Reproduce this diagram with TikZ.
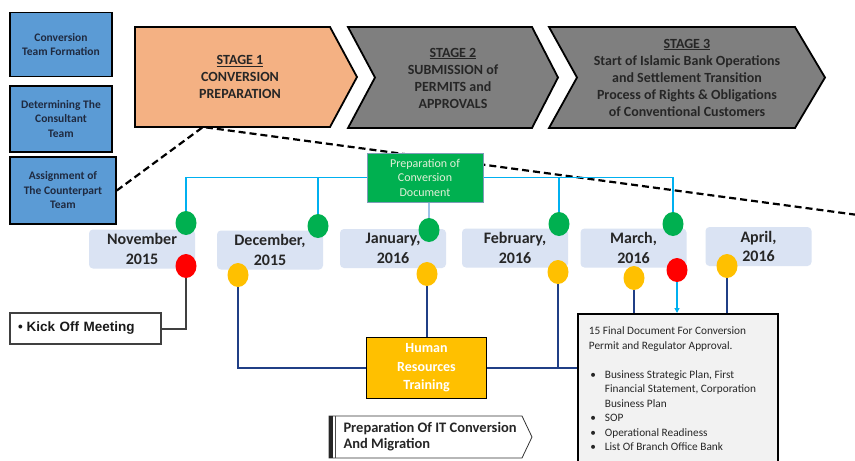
\documentclass[tikz,border=0pt]{standalone}
\usepackage{fontspec}
\setmainfont{Carlito}
\newfontfamily\kickfont{Liberation Sans}
\usetikzlibrary{shapes.geometric,backgrounds,arrows.meta}

\definecolor{teamblue}{HTML}{5B9BD5}
\definecolor{teamtext}{HTML}{1F2A40}
\definecolor{stageorange}{HTML}{F4B183}
\definecolor{stagegray}{HTML}{7F7F7F}
\definecolor{prepgreen}{HTML}{00B050}
\definecolor{preptext}{HTML}{E2F0D9}
\definecolor{buscyan}{HTML}{00B0F0}
\definecolor{stemblue}{HTML}{9DC3E6}
\definecolor{monthfill}{HTML}{DAE3F3}
\definecolor{dotgreen}{HTML}{00B050}
\definecolor{dotyellow}{HTML}{FFC000}
\definecolor{dotred}{HTML}{FF0000}
\definecolor{navy}{HTML}{203F86}
\definecolor{docgray}{HTML}{F2F2F2}

\newcommand{\docitem}[1]{\par\hangindent=16pt\hangafter=1\noindent\makebox[16pt][l]{\hspace{1.5pt}\textbullet}#1}

\begin{document}
\begin{tikzpicture}[x=1pt,y=-1pt]
  \tikzset{teambox/.style = {draw=black,line width=1.6pt,fill=teamblue,align=center,inner sep=2pt,text=teamtext,font=\bfseries\fontsize{11.5}{14.5}\selectfont}}
  \tikzset{stageline/.style = {draw=black,line width=1.8pt,line join=miter}}
  \tikzset{stagetext/.style = {align=center,text=black!85,font=\bfseries\fontsize{14}{17}\selectfont}}
  \tikzset{prepbox/.style = {draw=stemblue!80!black,line width=0.8pt,fill=prepgreen,minimum width=116pt,minimum height=49pt,align=center,text=preptext,font=\fontsize{12}{14.5}\selectfont}}
  \tikzset{monthbox/.style = {fill=monthfill,rounded corners=4pt,minimum width=106pt,minimum height=39pt,align=center,text=black!85,font=\bfseries\fontsize{16}{19.5}\selectfont}}
  \tikzset{milestone/.style = {ellipse,minimum width=21pt,minimum height=24pt,inner sep=0pt}}
  \tikzset{hrbox/.style = {draw=black,line width=1.6pt,fill=dotyellow,minimum width=120pt,minimum height=61pt,align=center,text=white,font=\bfseries\fontsize{14}{18.5}\selectfont}}
  \tikzset{kickbox/.style = {draw=black!75,line width=1.8pt,text width=135pt,inner xsep=8pt,minimum height=31pt,align=left,text=black!90,font=\kickfont\bfseries\fontsize{13.5}{16}\selectfont}}
  \tikzset{docbox/.style = {draw=black,line width=1.8pt,fill=docgray,anchor=north west,inner xsep=11pt,inner ysep=13pt,text=black!85,font=\fontsize{11.3}{14.5}\selectfont}}
  \tikzset{ittext/.style = {anchor=west,align=left,text=black!85,font=\bfseries\fontsize{14.5}{16}\selectfont}}
  \tikzset{dashlink/.style = {draw=black,line width=2.2pt,dash pattern=on 7pt off 4pt}}
  \tikzset{buslink/.style = {draw=buscyan,line width=1.6pt}}
  \tikzset{stemlink/.style = {draw=stemblue,line width=1.2pt}}
  \tikzset{navylink/.style = {draw=navy,line width=1.4pt}}
  \tikzset{kicklink/.style = {draw=black!75,line width=2pt}}

  \useasboundingbox (0,0) rectangle (855,461);

  % team formation boxes
  \node[teambox,minimum width=102pt,minimum height=64pt] (team1) at (61,44.5) {Conversion\\Team Formation};
  \node[teambox,minimum width=102pt,minimum height=66pt] (team2) at (61,119) {Determining The\\Consultant\\Team};
  \node[teambox,minimum width=106pt,minimum height=67pt] (team3) at (63,190.5) {Assignment of\\The Counterpart\\Team};

  % stages
  \draw[stageline,fill=stageorange] (135,27) -- (330,27) -- (357,77) -- (330,127) -- (135,127) -- cycle;
  \draw[stageline,fill=stagegray] (348,27) -- (532,27) -- (558,77.5) -- (532,128) -- (348,128) -- (375,77.5) -- cycle;
  \draw[stageline,fill=stagegray] (549,27) -- (795,27) -- (825,77.5) -- (795,128) -- (549,128) -- (577,77.5) -- cycle;
  \node[stagetext] (stage1) at (240,77) {\underline{STAGE 1}\\CONVERSION\\PREPARATION};
  \node[stagetext] (stage2) at (453,78) {\underline{STAGE 2}\\SUBMISSION of\\PERMITS and\\APPROVALS};
  \node[stagetext] (stage3) at (687,77.5) {\underline{STAGE 3}\\Start of Islamic Bank Operations\\and Settlement Transition\\Process of Rights \& Obligations\\of Conventional Customers};
  \coordinate (s1foot) at (203,127);
  \coordinate (dashend) at (858,215);

  \node[prepbox] (prep) at (425,177.5) {Preparation of\\Conversion\\Document};

  % months
  \foreach \name/\x/\y/\txt in {nov/142/249/{November\\2015},dec/270/250/{December,\\2015},
    jan/393/248.5/{January,\\2016},feb/515/248/{February,\\2016},mar/633.5/248/{March,\\2016},
    apr/758.5/246.5/{April,\\2016}}
    \node[monthbox] (\name) at (\x,\y) {\txt};

  \foreach \name/\x/\y/\col in {g1/186/223/dotgreen,g2/318/226/dotgreen,g3/429/230/dotgreen,
    g4/559/224/dotgreen,g5/673/224/dotgreen,r1/186/266/dotred,r2/677/270/dotred,
    y1/238/275/dotyellow,y2/427/274/dotyellow,y3/558/272/dotyellow,y4/634/278/dotyellow,
    y5/727/266/dotyellow}
    \node[milestone,fill=\col] (\name) at (\x,\y) {};

  \node[kickbox] (kick) at (85.5,328.5) {\textbullet\hspace{4pt}Kick Off Meeting};
  \node[hrbox] (hr) at (426.5,368) {Human\\Resources\\Training};

  \node[docbox] (doc) at (577,313) {\parbox[t][150pt][t]{178pt}{\raggedright
    15 Final Document For Conversion\\Permit and Regulator Approval.\par\vspace{14.5pt}
    \docitem{Business Strategic Plan, First\newline Financial Statement, Corporation\newline Business Plan}
    \docitem{SOP}
    \docitem{Operational Readiness}
    \docitem{List Of Branch Office Bank}}};

  % IT conversion arrow
  \draw[draw=black!80,line width=0.8pt,fill=white] (329,416) -- (522,416) -- (532,437) -- (522,458) -- (329,458) -- cycle;
  \fill[black!85] (329,416) rectangle (333,458);
  \draw[black!70,line width=0.6pt] (335.5,416) -- (335.5,458);
  \node[ittext] (itmig) at (340,437) {Preparation Of IT Conversion\\And Migration};

  \begin{scope}[on background layer]
    \fill[white] (0,0) rectangle (855,461);
    \draw[dashlink] (team3.east) -- (s1foot) -- (dashend);
    \draw[buslink] (g1) |- (prep.west);
    \draw[buslink] (prep.east) -| (g5);
    \foreach \from/\to in {g2/west,g4/east}
      \draw[buslink] (\from) -- (\from |- prep.\to);
    \draw[stemlink] (g3 |- prep.south) -- (g3);
    \draw[kicklink] (r1) |- (kick.east);
    \draw[navylink] (y1) |- (hr.west);
    \draw[navylink] (y2) -- (y2 |- hr.north);
    \draw[navylink] (hr.east) -- (hr.east -| doc.west);
    \draw[navylink] (y3) -- (y3 |- hr.east);
    \foreach \from in {y4,y5}
      \draw[navylink] (\from) -- (\from |- doc.north);
    \draw[buscyan,line width=1.2pt,-{Triangle[width=5pt,length=5pt]}] (r2) -- (r2 |- doc.north);
  \end{scope}
\end{tikzpicture}
\end{document}
